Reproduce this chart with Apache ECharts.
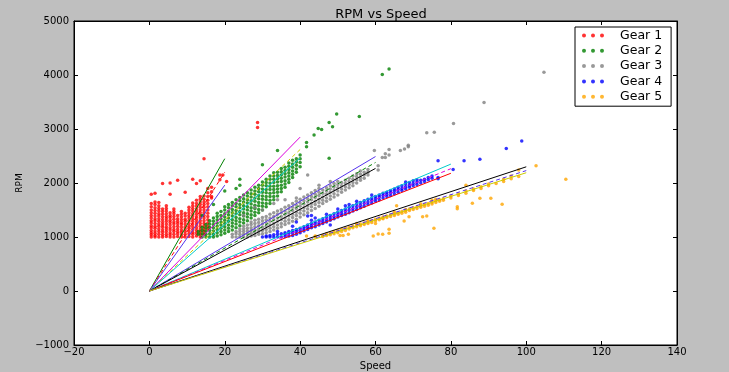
<!DOCTYPE html>
<html><head><meta charset="utf-8">
<script src="https://cdn.jsdelivr.net/npm/echarts/dist/echarts.min.js"></script>
<style>html,body{margin:0;padding:0;background:#bfbfbf}#c{width:729px;height:372px}</style>
</head><body><div id="c"></div><script>
// Data: each gear given as columns [speed, [rpm values observed at that speed]]
const gear1 = [
 [0.5,[1000,1040,1080,1120,1170,1210,1260,1300,1350,1400,1450,1500,1560,1620,1790]],
 [1.5,[1000,1030,1070,1110,1160,1200,1250,1300,1340,1390,1440,1490,1540,1600,1650,1810]],
 [2.5,[1000,1050,1100,1150,1200,1240,1290,1340,1390,1430,1480,1530,1580,1640]],
 [3.5,[1000,1040,1090,1130,1180,1220,1270,1320,1370,1420,1470,1520,1990]],
 [4.5,[1010,1050,1100,1150,1190,1240,1290,1340,1380,1430,1480,1530,1580]],
 [5.5,[1000,1040,1080,1130,1170,1220,1270,1310,1360,1400,1450,1790,2000]],
 [6.5,[1000,1050,1100,1140,1190,1240,1280,1330,1380,1430,1470,1520]],
 [7.5,[1010,1060,1100,1150,1200,1250,1290,1340,1400,2050]],
 [8.5,[1000,1040,1090,1130,1180,1230,1270,1320,1370,1420,1470]],
 [9.5,[1000,1050,1100,1150,1190,1240,1290,1330,1390,1440,1830]],
 [10.5,[1010,1060,1110,1160,1200,1250,1300,1350,1400,1450,1500,1550]],
 [11.5,[1000,1050,1090,1140,1190,1240,1290,1340,1390,1430,1480,1530,1580,1630,2070]],
 [12.5,[1020,1070,1120,1170,1220,1270,1320,1370,1420,1470,1520,1570,1620,1680,1990]],
 [13.5,[1000,1050,1100,1150,1200,1250,1300,1350,1400,1450,1500,1550,1600,1650,1700,1750,2040]],
 [14.5,[1050,1100,1150,1200,1250,1300,1350,1400,1450,1500,1550,1600,1650,1700,1760,2450]],
 [15.5,[1150,1200,1260,1320,1380,1440,1500,1560,1620,1680,1750,1820,1900]],
 [16.5,[1720,1750,1840,1920]],
 [18.7,[2150,2060]],[19.5,[2150]],[20.5,[2030]],
 [28.7,[3120,3030]]
];
const gear2 = [
 [13,[1050,1100]],
 [14,[1000,1060,1120,1180,1400]],
 [15,[1000,1050,1110,1170,1230]],
 [16,[1000,1060,1120,1180,1240,1300]],
 [17,[1000,1050,1110,1170,1230,1290,1350,1600]],
 [18,[1020,1080,1140,1200,1260,1320,1380,1440]],
 [19,[1040,1100,1160,1220,1280,1340,1400,1470]],
 [20,[1070,1130,1190,1250,1310,1370,1430,1500,1560,1850]],
 [21,[1100,1160,1220,1290,1350,1410,1470,1540,1600]],
 [22,[1130,1200,1260,1320,1390,1450,1510,1580,1640]],
 [23,[1170,1240,1300,1360,1430,1490,1560,1620,1690,1900]],
 [24,[1210,1280,1340,1410,1470,1540,1600,1670,1730,1960,2070]],
 [25,[1260,1320,1390,1450,1520,1580,1650,1710,1780]],
 [26,[1300,1370,1430,1500,1560,1630,1690,1760,1820]],
 [27,[1350,1410,1480,1540,1610,1670,1740,1800,1870]],
 [28,[1400,1460,1530,1590,1660,1720,1790,1850,1920]],
 [29,[1450,1510,1580,1640,1710,1770,1840,1900,1960]],
 [30,[1500,1570,1630,1700,1760,1830,1890,1960,2020,2340]],
 [31,[1560,1620,1690,1750,1820,1880,1950,2010,2070]],
 [32,[1620,1680,1750,1810,1880,1940,2000,2070,2130]],
 [33,[1690,1750,1820,1880,1940,2010,2070,2130,2190]],
 [34,[1760,1830,1890,1950,2020,2080,2140,2200,2600]],
 [35,[1840,1900,1960,2030,2090,2150,2210,2270]],
 [36,[1920,1980,2040,2110,2170,2230,2290]],
 [37,[2010,2070,2130,2190,2250,2310,2370]],
 [38,[2100,2160,2220,2290,2350,2420]],
 [39,[2200,2260,2330,2390,2450]],
 [40,[2300,2380,2450,2520]],
 [41.7,[2750,2670]],[43.7,[2890]],[44.8,[3010]],[45.7,[2990]],
 [47.7,[3120,2460]],[48.6,[3040]],[49.7,[3280]],[55.7,[3230]],
 [61.8,[4010]],[63.6,[4110]]
];
const gear3 = [
 [22,[1000,1050]],[23,[1000,1060,1100]],[24,[1000,1050,1100,1150]],
 [25,[1000,1050,1100,1150,1200,1400]],[26,[1000,1060,1110,1160,1220]],
 [27,[1020,1070,1120,1170,1230,1280]],[28,[1030,1080,1130,1190,1250,1310,1550]],
 [29,[1050,1100,1150,1210,1270,1330]],[30,[1060,1120,1180,1240,1300,1360,1500]],
 [31,[1080,1140,1200,1260,1320,1380]],[32,[1100,1160,1220,1290,1350,1420]],
 [33,[1130,1190,1250,1320,1380,1450,1620]],[34,[1160,1220,1290,1350,1420,1480,1690]],
 [35,[1190,1250,1320,1380,1450,1510]],[36,[1230,1290,1350,1420,1480,1550,1690]],
 [37,[1260,1320,1390,1450,1520,1580]],[38,[1290,1360,1420,1490,1550,1620]],
 [39,[1330,1400,1460,1530,1590,1660,1720]],[40,[1370,1440,1500,1570,1630,1700,1900]],
 [41,[1410,1480,1540,1610,1670,1740]],[42,[1450,1520,1580,1650,1710,1780,2150]],
 [43,[1490,1560,1620,1690,1750,1820]],[44,[1530,1600,1660,1730,1790,1860]],
 [45,[1570,1640,1700,1770,1830,1900,1960]],[46,[1620,1680,1740,1810,1870]],
 [47,[1660,1720,1790,1850,1910]],[48,[1700,1760,1830,1890,1950,2030]],
 [49,[1740,1800,1870,1930,1990]],[50,[1780,1850,1910,1970,2030]],
 [51,[1830,1890,1950,2010]],[52,[1870,1930,1990,2050]],[53,[1910,1970,2030,2090]],
 [54,[1950,2010,2070,2130]],[55,[2000,2060,2120,2170]],[56,[2050,2100,2160,2220]],
 [57,[2090,2150,2200]],[58,[2150,2200,2250]],[59.7,[2600]],[60.7,[2320,2240]],
 [61.8,[2470]],[62.6,[2540,2470]],[63.6,[2620,2520]],[66.6,[2600]],[67.7,[2630]],
 [68.7,[2700,2670]],[73.6,[2930]],[75.6,[2940]],[80.7,[3100]],[88.8,[3490]],[104.7,[4050]]
];
const gear4 = [
 [30,[1000]],[31,[1000,1020]],[32,[1000,1030]],[33,[1000,1040]],[34,[1000,1050,1100]],
 [35,[1000,1060]],[36,[1010,1050,1080]],[37,[1020,1070,1100]],[38,[1030,1080,1120,1200]],
 [39,[1050,1100,1140,1280]],[40,[1080,1120,1160]],[41,[1110,1150,1190]],
 [42,[1140,1180,1220,1390,1180]],[43,[1170,1210,1250,1400,1310]],[44,[1190,1240,1280,1350]],
 [45,[1220,1260,1310]],[46,[1250,1290,1340]],[47,[1280,1320,1370,1420]],
 [48,[1310,1350,1400,1220]],[49,[1340,1380,1430]],[50,[1370,1410,1460,1520]],
 [51,[1400,1440,1490]],[52,[1420,1470,1520,1580]],[53,[1450,1500,1550,1600]],
 [54,[1480,1530,1580]],[55,[1510,1560,1610,1660]],[56,[1540,1590,1640]],
 [57,[1570,1620,1670]],[58,[1600,1650,1700]],[59,[1630,1680,1720,1780]],
 [60,[1660,1710,1750]],[61,[1690,1740,1780]],[62,[1720,1770,1810]],[63,[1750,1790,1830]],
 [64,[1770,1820,1860]],[65,[1800,1850,1890]],[66,[1830,1880,1920]],[67,[1860,1900,1950]],
 [68,[1890,1930,1980,2020]],[69,[1920,1960,2010]],[70,[1950,1990,2040]],
 [71,[1970,2020,2060]],[72,[2000,2050]],[73,[2030,2070]],[74,[2060,2100]],
 [75,[2090,2130]],[76.6,[2100,2080,2410]],[80.6,[2250]],[83.5,[2410]],[87.7,[2440]],
 [94.7,[2640]],[98.8,[2780]]
];
const gear5 = [
 [41.7,[1020]],[44,[1000,1020]],[46,[1010,1030]],[47,[1030,1060]],[48,[1040,1080]],
 [49,[1060,1100]],[50,[1080,1120]],[50.6,[1030]],[51.4,[1030]],[52.8,[1050]],
 [51,[1100,1140]],[52,[1120,1160]],[53,[1150,1180]],[54,[1170,1200]],
 [55,[1190,1220,1250]],[56,[1210,1240]],[57,[1230,1260]],[58,[1250,1280,1300]],
 [59,[1270,1300]],[59.4,[1020]],[60,[1300,1330,1250]],[60.7,[1055]],[61,[1320,1350]],
 [61.9,[1050,1346]],[62,[1340,1370]],[63,[1360,1390]],[63.6,[1068,1142]],
 [64,[1380,1410]],[65,[1400,1430,1460]],[65.6,[1580]],[66,[1420,1450]],[67,[1440,1470]],
 [67.6,[1296]],[68,[1460,1490,1510]],[68.9,[1377]],[69,[1490,1520]],[70,[1510,1540]],
 [71,[1530,1560]],[72,[1550,1580,1610]],[72.5,[1377]],[73,[1570,1600]],[73.6,[1389]],
 [74,[1590,1620]],[75,[1610,1640,1680]],[75.5,[1161]],[76,[1640,1670,1700]],
 [77,[1660,1690]],[78,[1680,1710]],[80,[1720,1760]],[81.7,[1561,1524]],[82,[1770,1800]],
 [84,[1810,1850,1960]],[85.7,[1624]],[86,[1860,1890]],[87.7,[1716]],[88,[1900,1930]],
 [90,[1950,1980]],[90.6,[1716]],[92,[1990]],[93.6,[1605]],[94,[2030,2070]],
 [96,[2080,2130]],[98,[2120,2240]],[102.6,[2320]],[110.5,[2068]]
];
// Fitted lines from origin: end speed per gear and end rpm for the three fits
const gearNames = ['Gear 1','Gear 2','Gear 3','Gear 4','Gear 5'];
const fitSpeedMax = [20, 40, 60, 80, 100];
const fitA = [2450, 2850, 2490, 2350, 2300];
const fitB = [2200, 2620, 2380, 2265, 2230];
const fitC = [1960, 2460, 2270, 2180, 2190];
const xTicks = {min:-20, max:140, interval:20};
const yTicks = {min:-1000, max:5000, interval:1000};

const pointColors = ['#ff0000','#008000','#808080','#0000ff','#ffa500'];
const colA = ['#008000','#dd00dd','#5533ee','#00cccc','#000000'];
const colB = ['#ff0000','#cccc00','#008000','#dd00dd','#5533ee'];
const colC = ['#5533ee','#00cccc','#000000','#ff0000','#cccc00'];

const flat = cols => cols.flatMap(([s, arr]) => arr.map(r => [s, r]));
const gears = [gear1, gear2, gear3, gear4, gear5];
const FONT = 'DejaVu Sans';
const minus = v => String(v).replace('-', '\u2212');
const dotIcon = 'path://M0,2a2,2 0 1,0 4,0a2,2 0 1,0 -4,0ZM9,2a2,2 0 1,0 4,0a2,2 0 1,0 -4,0ZM18,2a2,2 0 1,0 4,0a2,2 0 1,0 -4,0Z';

const series = [];
gears.forEach((g, i) => {
  series.push({name: gearNames[i], type:'scatter', data: flat(g), symbol:'circle', symbolSize:3.5,
    itemStyle:{color: pointColors[i]}, z:2, silent:true});
});
function fit(i, end, color, dashed) {
  series.push({type:'line', data:[[0,0],[fitSpeedMax[i], end]], showSymbol:false, silent:true, z:3,
    lineStyle:{color, width:1, type: dashed ? [4,3] : 'solid'}});
}
for (let i = 0; i < 5; i++) {
  fit(i, fitA[i], colA[i], false);
  fit(i, fitB[i], colB[i], true);
  fit(i, fitC[i], colC[i], false);
}

const axisCommon = {
  axisLine:{show:true, onZero:false, lineStyle:{color:'#000', width:1}},
  axisTick:{show:true, inside:true, length:4, lineStyle:{color:'#000'}},
  splitLine:{show:false}
};
const chart = echarts.init(document.getElementById('c'));
chart.setOption({
  animation:false,
  backgroundColor:'#bfbfbf',
  textStyle:{fontFamily:FONT},
  title:{text:'RPM vs Speed', left:376, top:3, textAlign:'center',
    textStyle:{fontFamily:FONT, fontSize:13, fontWeight:'normal', color:'#000'}},
  legend:{data: gearNames.map(n => ({name:n, icon:dotIcon})), orient:'vertical',
    left:575, top:27, itemWidth:22, itemHeight:4, itemGap:0.3,
    padding:[1,9,2,7], backgroundColor:'#fff', borderColor:'#000', borderWidth:1,
    textStyle:{fontFamily:FONT, fontSize:12.5, color:'#000', lineHeight:15, padding:[0,0,0,11]}},
  grid:{left:74, right:52, top:21, bottom:27, outerBoundsMode:'none', containLabel:false,
    show:true, backgroundColor:'#fff', borderColor:'#000', borderWidth:1},
  xAxis:[
    Object.assign({type:'value', position:'bottom', ...xTicks, name:'Speed', nameLocation:'middle', nameGap:14,
      nameTextStyle:{fontFamily:FONT, fontSize:10, color:'#000'},
      axisLabel:{fontFamily:FONT, fontSize:10, color:'#000', margin:2, formatter:minus}}, axisCommon),
    Object.assign({type:'value', position:'top', ...xTicks, axisLabel:{show:false}}, axisCommon)
  ],
  yAxis:[
    Object.assign({type:'value', position:'left', ...yTicks, name:'RPM', nameLocation:'middle', nameGap:46,
      nameTextStyle:{fontFamily:FONT, fontSize:9, color:'#000'},
      axisLabel:{fontFamily:FONT, fontSize:10, color:'#000', margin:5, formatter:minus}}, axisCommon),
    Object.assign({type:'value', position:'right', ...yTicks, axisLabel:{show:false}}, axisCommon)
  ],
  series
});
</script></body></html>
